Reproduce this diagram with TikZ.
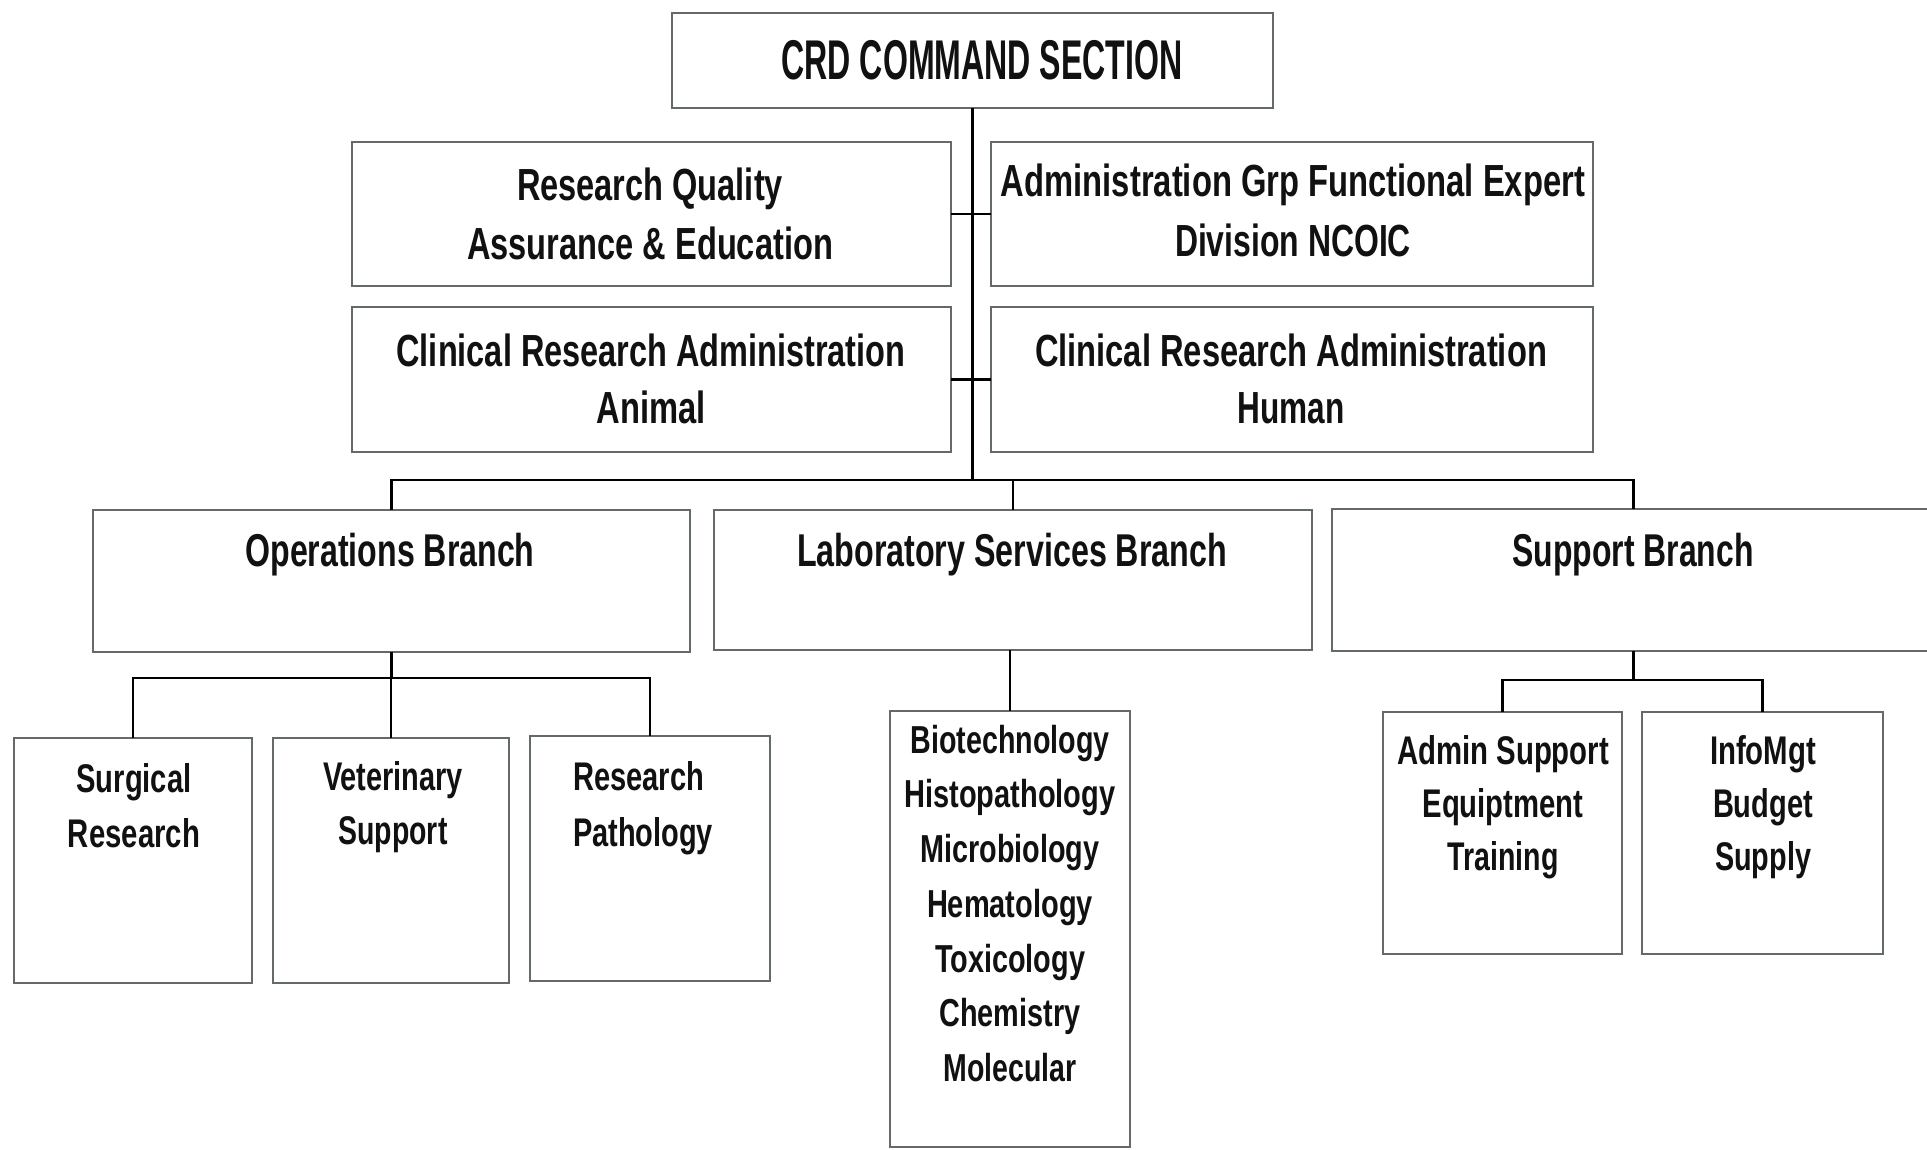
\documentclass[tikz,border=0pt]{standalone}
\usepackage{fontspec}
\setmainfont{Liberation Sans}
\usepackage{graphicx}
\newcommand{\fw}[2]{\resizebox{#1pt}{\height}{#2}}
\definecolor{boxgray}{RGB}{100,106,108}
\definecolor{inkblack}{RGB}{17,17,17}
\begin{document}
\begin{tikzpicture}[x=1pt,y=-1pt,
  box/.style={draw=boxgray, line width=2.6pt, fill=white, inner sep=0pt, outer sep=0pt, anchor=north west},
  conn/.style={draw=black, line width=2.8pt},
  txt/.style 2 args={inner sep=0pt, outer sep=0pt, anchor=north, align=center, text=inkblack,
              font=\bfseries\fontsize{#1}{#2}\selectfont},
]
\clip (0,0) rectangle (1927,1149);
\fill[white] (0,0) rectangle (1927,1149);

% boxes
\node[box, minimum width=601pt, minimum height=95pt]  (crd)  at (672,13)   {};
\node[box, minimum width=599pt, minimum height=144pt] (rq)   at (352,142)  {};
\node[box, minimum width=602pt, minimum height=144pt] (adm)  at (991,142)  {};
\node[box, minimum width=599pt, minimum height=145pt] (cra)  at (352,307)  {};
\node[box, minimum width=602pt, minimum height=145pt] (crh)  at (991,307)  {};
\node[box, minimum width=597pt, minimum height=142pt] (ops)  at (93,510)   {};
\node[box, minimum width=598pt, minimum height=140pt] (lab)  at (714,510)  {};
\node[box, minimum width=603pt, minimum height=142pt] (sup)  at (1332,509) {};
\node[box, minimum width=238pt, minimum height=245pt] (surg) at (14,738)   {};
\node[box, minimum width=236pt, minimum height=245pt] (vet)  at (273,738)  {};
\node[box, minimum width=240pt, minimum height=245pt] (path) at (530,736)  {};
\node[box, minimum width=240pt, minimum height=436pt] (bio)  at (890,711)  {};
\node[box, minimum width=239pt, minimum height=242pt] (ads)  at (1383,712) {};
\node[box, minimum width=241pt, minimum height=242pt] (info) at (1642,712) {};

% junction levels
\coordinate (bar)  at (0,480);
\coordinate (obar) at (0,678);
\coordinate (sbar) at (0,680);

% connectors
\draw[conn] (crd.south) -- (crd.south |- bar);
\draw[conn] (rq.east) -- (adm.west);
\draw[conn] (cra.east) -- (crh.west);
\draw[conn] (ops.north) -- (ops.north |- bar) -- (sup.north |- bar) -- (sup.north);
\draw[conn] (lab.north) -- (lab.north |- bar);
\draw[conn] (ops.south) -- (ops.south |- obar);
\draw[conn] (surg.north) -- (surg.north |- obar) -- (path.north |- obar) -- (path.north);
\draw[conn] (vet.north) -- (vet.north |- obar);
\draw[conn] (lab.south -| bio.north) -- (bio.north);
\draw[conn] (sup.south) -- (sup.south |- sbar);
\draw[conn] (ads.north) -- (ads.north |- sbar) -- (info.north |- sbar) -- (info.north);

% texts
\node[txt={56}{64}] (tcrd) at (982,40) {\fw{401}{CRD COMMAND SECTION}};
\node[txt={45}{59}] (trq)  at (650,168)  {\fw{266}{Research Quality}\\\fw{366}{Assurance \& Education}};
\node[txt={45}{60}] (tadm) at (1293,164) {\fw{584}{Administration Grp Functional Expert}\\\fw{236}{Division NCOIC}};
\node[txt={45}{57}] (tcra) at (651,334)  {\fw{509}{Clinical Research Administration}\\\fw{109}{Animal}};
\node[txt={45}{57}] (tcrh) at (1291,334) {\fw{512}{Clinical Research Administration}\\\fw{107}{Human}};
\node[txt={46}{58}] (tops) at (390,533)  {\fw{289}{Operations Branch}};
\node[txt={46}{58}] (tlab) at (1012,533) {\fw{430}{Laboratory Services Branch}};
\node[txt={46}{58}] (tsup) at (1633,533) {\fw{241}{Support Branch}};
\node[txt={40}{55}] (tsurg) at (134,764) {\fw{115}{Surgical}\\\fw{132}{Research}};
\node[txt={40}{54}] (tvet)  at (393,762) {\fw{140}{Veterinary}\\\fw{109}{Support}};
\node[txt={40}{56}, anchor=north west, align=left] (tpath) at (573,762) {\fw{131}{Research}\\\fw{140}{Pathology}};
\node[txt={40}{53}] (tads)  at (1503,736) {\fw{212}{Admin Support}\\\fw{161}{Equiptment}\\\fw{111}{Training}};
\node[txt={40}{53}] (tinfo) at (1763,736) {\fw{106}{InfoMgt}\\\fw{100}{Budget}\\\fw{96}{Supply}};
\node[txt={39}{54.7}] (tbio) at (1010,725) {\fw{199}{Biotechnology}\\\fw{211}{Histopathology}\\\fw{179}{Microbiology}\\\fw{166}{Hematology}\\\fw{150}{Toxicology}\\\fw{141}{Chemistry}\\\fw{133}{Molecular}};
\end{tikzpicture}
\end{document}
